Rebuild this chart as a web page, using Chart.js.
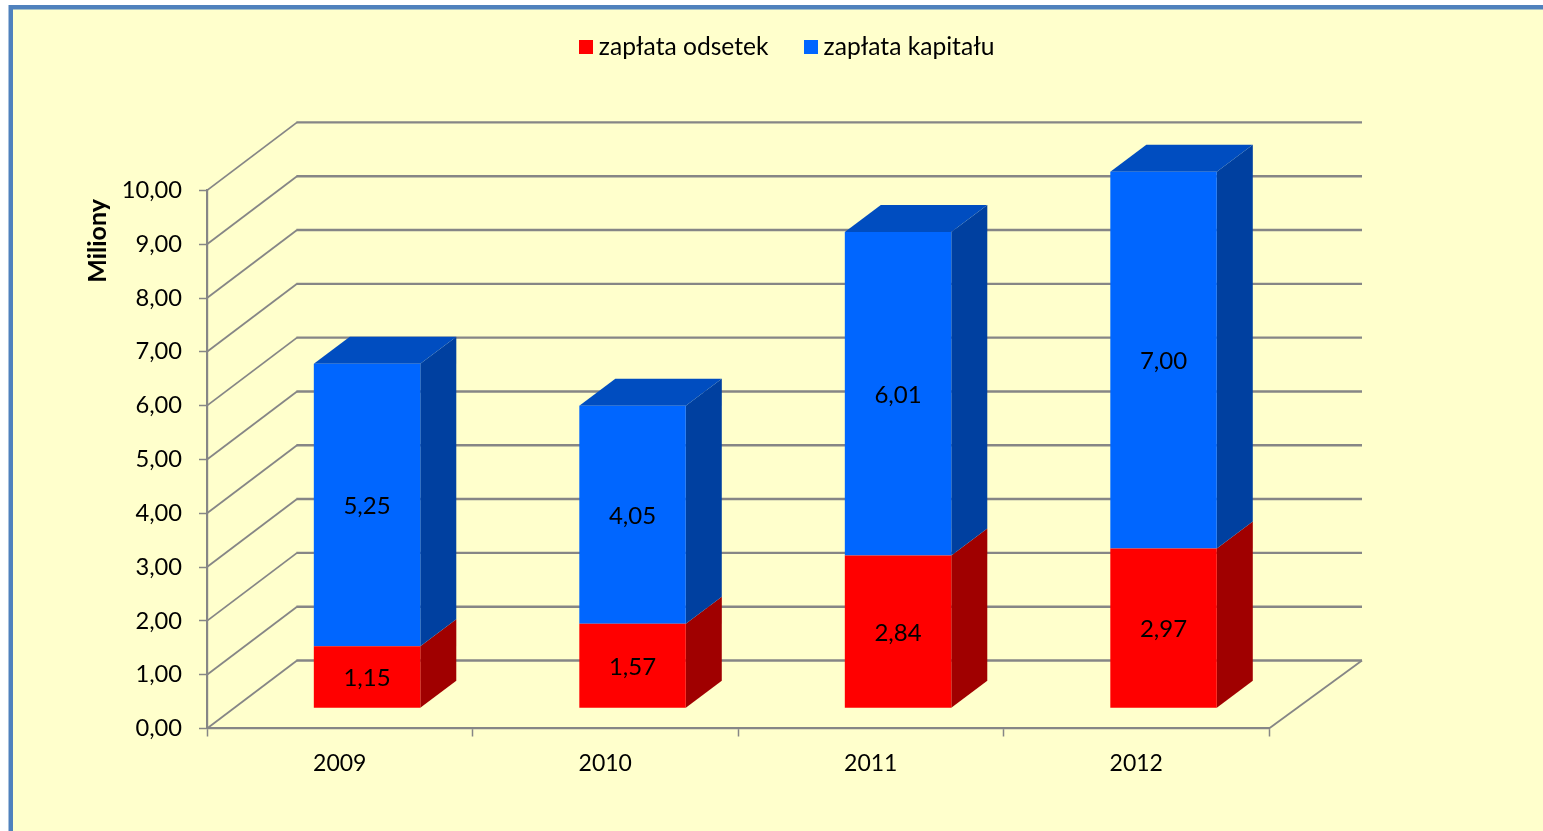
<!DOCTYPE html>
<html lang="pl">
<head>
<meta charset="utf-8">
<title>Zapłata odsetek i kapitału</title>
<script src="https://cdn.jsdelivr.net/npm/chart.js@4"></script>
<style>
html,body{margin:0;padding:0;background:#fff;overflow:hidden}
#wrap{position:absolute;left:0;top:0;width:1543px;height:831px}
canvas{display:block}
</style>
</head>
<body>
<div id="wrap"><canvas id="c" width="1543" height="831"></canvas></div>
<script>
const categories = ['2009', '2010', '2011', '2012'];
const interestLabel = 'zapłata odsetek';
const capitalLabel = 'zapłata kapitału';
const interestValues = [1.15, 1.57, 2.84, 2.97];
const capitalValues = [5.25, 4.05, 6.01, 7.00];
const axisTitle = 'Miliony';

const FONT = 'Lato';
const GRID = '#868686';
const fmt = v => Number(v).toFixed(2).replace('.', ',');

const BACK_L = 90, BACK_R = 93, BACK_Y = 68;     // wall depth
const SHIFT_X = 27.3, SHIFT_Y = 20.3;            // bars stand inside the floor
const BAR_DX = 36, BAR_DY = 27;                  // bar depth

const swatch = color => {
  const s = document.createElement('canvas');
  s.width = 14; s.height = 14;
  const g = s.getContext('2d');
  g.fillStyle = color;
  g.fillRect(0, 0, 14, 14);
  return s;
};

const frame = {
  id: 'frame',
  beforeDraw(chart) {
    const c = chart.ctx;
    c.save();
    c.fillStyle = '#fff';
    c.fillRect(0, 0, chart.width, chart.height);
    c.fillStyle = '#FFFFCC';
    c.fillRect(9, 5, chart.width, chart.height);
    c.fillStyle = '#4F81BD';
    c.fillRect(9, 5, chart.width, 4.5);
    c.fillRect(8.5, 5, 4.5, chart.height);
    c.restore();
  },
  afterLayout(chart) {
    const l = chart.legend;
    const dx = 155.5, top = -7;
    l.left += dx; l.right += dx;
    const h = l.height;
    l.top = top; l.bottom = top + h;
  }
};

const walls = {
  id: 'walls',
  beforeDatasetsDraw(chart) {
    const c = chart.ctx, y = chart.scales.y, a = chart.chartArea;
    c.save();
    c.strokeStyle = GRID;
    c.lineCap = 'butt';
    y.ticks.forEach(t => {
      const py = y.getPixelForValue(t.value);
      // side wall
      c.lineWidth = 1.8;
      c.beginPath();
      c.moveTo(a.left, py);
      c.lineTo(a.left + BACK_L, py - BACK_Y);
      c.stroke();
      // back wall
      c.lineWidth = 2.4;
      c.beginPath();
      c.moveTo(a.left + BACK_L - 0.6, py - BACK_Y);
      c.lineTo(a.right + BACK_R, py - BACK_Y);
      c.stroke();
    });
    // floor edge
    const p0 = y.getPixelForValue(0);
    c.lineWidth = 1.8;
    c.beginPath();
    c.moveTo(a.right, p0);
    c.lineTo(a.right + BACK_R, p0 - BACK_Y);
    c.stroke();

    // Miliony
    c.save();
    c.translate(98, y.getPixelForValue(9.06));
    c.rotate(-Math.PI / 2);
    c.fillStyle = '#000';
    c.font = 'bold 25px ' + FONT;
    c.textAlign = 'center';
    c.textBaseline = 'middle';
    c.fillText(axisTitle, 0, 0);
    c.restore();
    c.restore();

    // bars and their 3D faces are shifted to stand inside the floor
    c.save();
    c.translate(SHIFT_X, -SHIFT_Y);
    chart.data.datasets.forEach((ds, i) => {
      const isTop = i === chart.data.datasets.length - 1;
      chart.getDatasetMeta(i).data.forEach(b => {
        const p = b.getProps(['x', 'y', 'base', 'width'], true);
        const r = p.x + p.width / 2, l = p.x - p.width / 2;
        c.fillStyle = ds.sideColor;
        c.beginPath();
        c.moveTo(r, p.y);
        c.lineTo(r + BAR_DX, p.y - BAR_DY);
        c.lineTo(r + BAR_DX, p.base - BAR_DY);
        c.lineTo(r, p.base);
        c.closePath();
        c.fill();
        if (isTop) {
          c.fillStyle = ds.topColor;
          c.beginPath();
          c.moveTo(l, p.y);
          c.lineTo(l + BAR_DX, p.y - BAR_DY);
          c.lineTo(r + BAR_DX, p.y - BAR_DY);
          c.lineTo(r, p.y);
          c.closePath();
          c.fill();
        }
      });
    });
  },
  afterDatasetsDraw(chart) {
    const c = chart.ctx;
    c.fillStyle = '#000';
    c.font = '24px ' + FONT;
    c.textAlign = 'center';
    c.textBaseline = 'middle';
    chart.data.datasets.forEach((ds, i) => {
      chart.getDatasetMeta(i).data.forEach((b, j) => {
        const p = b.getProps(['x', 'y', 'base'], true);
        c.fillText(fmt(ds.data[j]), p.x, (p.y + p.base) / 2 + 1.5);
      });
    });
    c.restore();
  }
};

new Chart(document.getElementById('c'), {
  type: 'bar',
  data: {
    labels: categories,
    datasets: [
      { label: interestLabel, data: interestValues, backgroundColor: '#FF0000',
        sideColor: '#A00000', topColor: '#C00000', clip: false },
      { label: capitalLabel, data: capitalValues, backgroundColor: '#0066FF',
        sideColor: '#0040A0', topColor: '#004DC0', clip: false }
    ]
  },
  options: {
    responsive: false,
    animation: false,
    events: [],
    layout: { padding: { left: 0, right: 274, top: 114, bottom: 0 } },
    datasets: { bar: { barPercentage: 0.401, categoryPercentage: 1 } },
    plugins: {
      tooltip: { enabled: false },
      legend: {
        position: 'top',
        labels: {
          usePointStyle: true, pointStyleWidth: 1, boxHeight: 14,
          padding: 41.8, color: '#000',
          font: { family: FONT, size: 24.6 },
          generateLabels: chart =>
            Chart.defaults.plugins.legend.labels.generateLabels(chart).map((it, i) => ({
              ...it,
              pointStyle: swatch(chart.data.datasets[i].backgroundColor)
            }))
        }
      }
    },
    scales: {
      x: {
        stacked: true,
        afterFit: s => { s.height = 102.5; },
        grid: { drawOnChartArea: false, drawTicks: true, tickLength: 8, color: GRID, tickWidth: 1.5 },
        border: { display: true, color: GRID, width: 2.2 },
        ticks: { color: '#000', padding: 13, maxRotation: 0, font: { family: FONT, size: 23 } }
      },
      y: {
        stacked: true,
        min: 0, max: 10,
        afterFit: s => { s.width = 207; },
        grid: { drawOnChartArea: false, drawTicks: true, tickLength: 8, color: GRID, tickWidth: 1.5 },
        border: { display: true, color: GRID, width: 2.2 },
        ticks: { stepSize: 1, color: '#000', padding: 17, callback: v => fmt(v), font: { family: FONT, size: 23.7 } }
      }
    }
  },
  plugins: [frame, walls]
});
</script>
</body>
</html>
